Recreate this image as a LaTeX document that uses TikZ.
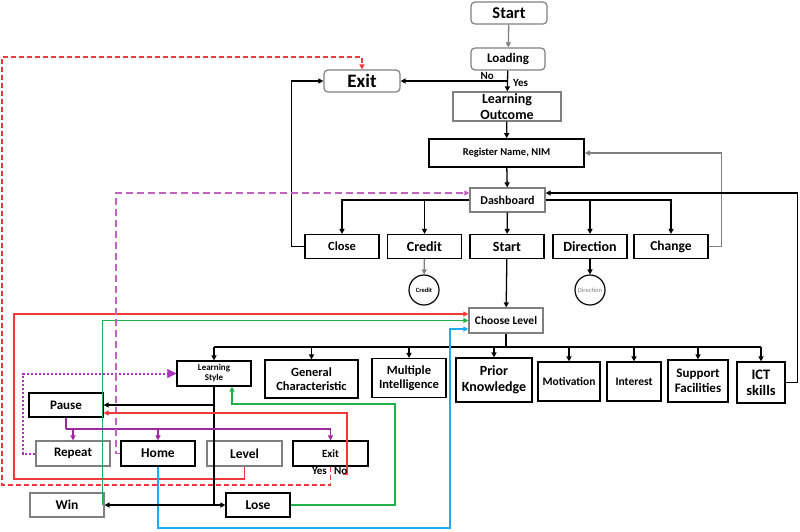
\documentclass[tikz,border=0pt]{standalone}
\usepackage{fontspec}
\setmainfont{Carlito}
\usetikzlibrary{arrows.meta,positioning,calc}
\definecolor{edgegray}{HTML}{808080}
\definecolor{lred}{HTML}{F03A3A}
\definecolor{lgreen}{HTML}{22B04A}
\definecolor{lblue}{HTML}{1EAAEE}
\definecolor{lpurple}{HTML}{9A2A9E}
\definecolor{lmagenta}{HTML}{C063C0}
\definecolor{ldot}{HTML}{B030C0}
\newcommand\fsz[1]{\fontsize{#1}{\fpeval{#1*1.12}}\selectfont}
\tikzset{fs/.style={font=\bfseries\fsz{#1}},
  blk/.style={draw=black,line width=1.2pt,fill=white,align=center,inner sep=1pt,minimum width=74pt,minimum height=24pt},
  gry/.style={blk,draw=edgegray},
  rnd/.style={gry,rounded corners=4pt},
  flow/.style={-{Triangle[length=5pt,width=5pt]},line width=1.3pt},
  lbl/.style={font=\bfseries\fsz{11},inner sep=0pt}}
\begin{document}
\begin{tikzpicture}[x=1pt,y=-1pt]
\useasboundingbox (0,0) rectangle (800,531);
% top column
\node[rnd,fs=16.5,minimum width=76pt,minimum height=22pt] (start1) at (509,13) {Start};
\node[rnd,fs=13,minimum height=22pt] (loading) at (508,59) {Loading};
\node[rnd,fs=19,minimum width=76pt,minimum height=22pt] (exit1) at (362,81) {Exit};
\node[gry,fs=14,minimum width=108pt,minimum height=29pt] (outcome) at (507,106.5) {Learning\\Outcome};
\node[blk,fs=10.5,line width=1.7pt,minimum width=155pt,minimum height=28pt] (register) at (506.5,153) {Register Name, NIM};
\node[gry,fs=12,minimum width=75pt] (dash) at (507.5,200) {Dashboard};
% dashboard menu
\node[blk,fs=12.5] (close) at (342,246.5) {Close};
\node[blk,fs=14] (credit) at (424.5,246.5) {Credit};
\node[blk,fs=14] (start2) at (507,246.5) {Start};
\node[blk,fs=14] (direction) at (590,246.5) {Direction};
\node[blk,fs=13.5] (change) at (671,246.5) {Change};
\node[circle,draw,line width=1.2pt,minimum size=30pt,inner sep=0pt,fs=6.5] (creditc) at (424,290) {Credit};
\node[circle,draw,line width=1.2pt,minimum size=30pt,inner sep=0pt,font=\fsz{6.5},text=edgegray] (dirc) at (590,290) {Direction};
% level selection
\node[gry,fs=11.5,minimum height=25pt] (choose) at (506,320.5) {Choose Level};
\node[blk,fs=9,minimum height=25pt] (lstyle) at (214,373.5) {Learning\\Style};
\node[blk,fs=12.5,minimum width=93pt,minimum height=38pt] (general) at (311.5,379) {General\\Characteristic};
\node[blk,fs=12.5,minimum height=39pt] (multi) at (409,378) {Multiple\\Intelligence};
\node[blk,fs=14,minimum width=76pt,minimum height=44pt] (prior) at (494,380) {Prior\\Knowledge};
\node[blk,fs=11.5,minimum width=62pt,minimum height=39pt] (motiv) at (569,381.5) {Motivation};
\node[blk,fs=11.5,minimum width=54pt,minimum height=39pt] (interest) at (634,381.5) {Interest};
\node[blk,fs=13,minimum width=60pt,minimum height=42pt] (support) at (698,381) {Support\\Facilities};
\node[blk,fs=14.5,minimum width=48pt,minimum height=41pt] (ict) at (761,382.5) {ICT\\skills};
% game controls
\node[blk,fs=13] (pause) at (66,405) {Pause};
\node[gry,fs=13,minimum height=25pt] (repeat) at (73,453.5) {Repeat};
\node[blk,fs=13.5,minimum height=25pt] (home) at (158,453.5) {Home};
\node[gry,fs=13.5,minimum width=75pt,minimum height=25pt] (level) at (244.5,453.5) {Level};
\node[blk,fs=11,minimum width=75pt,minimum height=25pt] (exit2) at (330.5,453.5) {Exit};
\node[gry,fs=13.5] (win) at (67,505) {Win};
\node[blk,fs=13.5,minimum width=64pt] (lose) at (258,505) {Lose};
% main flow
\coordinate (lj) at (508,81);
\draw[flow,draw=edgegray] (start1) -- (loading);
\draw[flow] (loading) -- (outcome);
\draw[flow] (lj) -- (exit1.east);
\node[lbl,anchor=south east] at (494,80) {No};
\node[lbl,anchor=north west] at (513,79) {Yes};
\draw[flow] (outcome) -- (register);
\draw[flow] (register) -- (dash);
\draw[flow] (dash.west) -| (close.north);
\draw[flow] (credit.north |- dash.west) -- (credit.north);
\draw[flow] (dash) -- (start2);
\draw[flow,line width=1.7pt] (dash.east) -| (change.north);
\draw[flow,line width=1.7pt] (direction.north |- dash.east) -- (direction.north);
\draw[flow,draw=edgegray] (credit) -- (creditc);
\draw[flow] (direction) -- (dirc);
\draw[flow] (close.west) -- ++(-13,0) |- (exit1.west);
\draw[flow,draw=edgegray] (change.east) -- ++(13,0) |- (register.east);
\draw[flow] (start2) -- (choose);
\draw[flow,line width=1.6pt] (ict.east) -- ++(12,0) |- ([yshift=7pt]dash.east);
% level branches
\coordinate (cj) at (506,347);
\draw[line width=1.6pt] (choose.south) -- (cj);
\draw[line width=1.6pt] (lstyle.north |- cj) -- (ict.north |- cj);
\foreach \n in {lstyle,general,multi,prior,motiv,interest,support,ict}
  \draw[flow] (\n.north |- cj) -- (\n.north);
% returns to level selection
\draw[flow,draw=lred] (level.south) |- (14,479) |- ([yshift=6.5pt]choose.west);
\draw[flow,draw=lgreen] ([xshift=-2pt]win.east) |- (choose.west);
\draw[flow,draw=lblue] (home.south) |- (450,528) |- ([yshift=-8.5pt]choose.west);
\draw[flow,draw=lgreen] (lose.east) -| (395,404) -| ([xshift=18pt]lstyle.south);
% game control links
\coordinate (lj2) at (lstyle.south |- win);
\draw[line width=1.3pt] (lstyle.south) -- (lj2);
\draw[flow] (lj2) -- (lose.west);
\draw[flow] (lj2) -- (win.east);
\draw[flow] (lstyle.south |- pause.east) -- (pause.east);
\coordinate (pj) at (66,429);
\draw[line width=1.3pt,draw=lpurple] (pause.south) -- (pj);
\draw[flow,draw=lpurple] (pj) -| (exit2.north);
\draw[flow,draw=lpurple] (repeat.north |- pj) -- (repeat.north);
\draw[flow,draw=lpurple] (home.north |- pj) -- (home.north);
\draw[line width=2pt,draw=ldot,dash pattern=on 2pt off 2pt] (repeat.west) -- (23,453.5) |- ([xshift=-9pt]lstyle.west);
\draw[draw=ldot,fill=ldot,line width=0.5pt,-{Triangle[length=9pt,width=9pt]}] ([xshift=-9pt]lstyle.west) -- (lstyle.west);
\draw[flow,draw=lmagenta,dash pattern=on 7pt off 4pt] (home.west) -- (116,453.5) |- ([yshift=7pt]dash.west);
\coordinate (noend) at ([xshift=12.5pt,yshift=-8pt]exit2.south);
\draw[flow,draw=lred] (noend) -- ++(4,0) |- ([yshift=-8pt]pause.east);
\draw[flow,draw=lred,dash pattern=on 5pt off 3pt] (exit2.south) -- (330.5,485) -- (2,485) -- (2,57) -| (exit1.north);
\node[lbl,anchor=north east] at (327,467) {Yes};
\node[lbl,anchor=north west] at (334,467) {No};
\end{tikzpicture}
\end{document}
